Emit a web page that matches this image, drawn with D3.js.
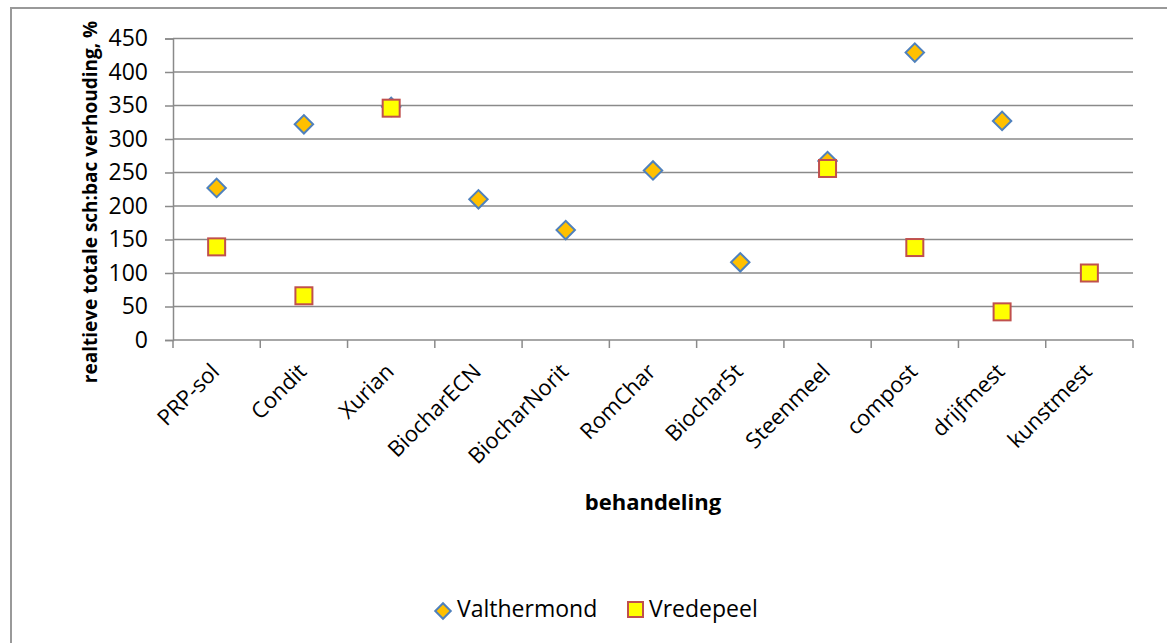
<!DOCTYPE html>
<html><head><meta charset="utf-8">
<script src="https://cdn.jsdelivr.net/npm/d3@7"></script>
<style>
body{margin:0;background:#fff;}
svg{display:block;font-family:"Open Sans","Noto Sans",sans-serif;}
</style></head>
<body><svg id="c" width="1167" height="643"></svg>
<script>
const categories = ["PRP-sol","Condit","Xurian","BiocharECN","BiocharNorit","RomChar","Biochar5t","Steenmeel","compost","drijfmest","kunstmest"];
const valthermond = [227, 322, 348, 210, 164, 253, 116, 267, 429, 327, null];
const vredepeel  = [139, 66, 346, null, null, null, null, 256, 138, 42, 100];
const yTicks = [0,50,100,150,200,250,300,350,400,450];
const seriesNames = ["Valthermond","Vredepeel"];

const svg = d3.select("#c");
const m = {l:173, r:1133, t:38.5, b:340};
const x = d3.scaleBand().domain(categories).range([m.l, m.r]);
const y = d3.scaleLinear().domain([0,450]).range([m.b, m.t]);
const grid = "#8a8a8a";

// chart border
svg.append("rect").attr("x",11).attr("y",8).attr("width",1200).attr("height",700)
  .attr("fill","none").attr("stroke","#999").attr("stroke-width",2);

// gridlines
svg.append("g").selectAll("line").data(yTicks.filter(d=>d>0)).join("line")
  .attr("x1",m.l).attr("x2",m.r).attr("y1",d=>y(d)).attr("y2",d=>y(d))
  .attr("stroke",grid).attr("stroke-width",1.5);

// y axis
const ya = svg.append("g").attr("transform",`translate(${m.l},0)`)
  .call(d3.axisLeft(y).tickValues(yTicks).tickSize(8).tickPadding(17));
ya.select(".domain").attr("stroke",grid).attr("stroke-width",1.5);
ya.selectAll(".tick line").attr("stroke",grid).attr("stroke-width",1.5);
ya.selectAll("text").attr("font-size",23).attr("fill","#000").attr("font-family","Open Sans");

// x axis line + ticks at boundaries
svg.append("line").attr("x1",m.l).attr("x2",m.r).attr("y1",m.b).attr("y2",m.b)
  .attr("stroke",grid).attr("stroke-width",1.5);
const bounds = categories.map(c=>x(c)).concat([x(categories[categories.length-1])+x.bandwidth()]);
svg.append("g").selectAll("line").data(bounds).join("line")
  .attr("x1",d=>d).attr("x2",d=>d).attr("y1",m.b).attr("y2",m.b+8)
  .attr("stroke",grid).attr("stroke-width",1.5);

// x labels
svg.append("g").selectAll("text").data(categories).join("text")
  .attr("transform",d=>`translate(${x(d)+x.bandwidth()/2+4},${m.b+33}) rotate(-45)`)
  .attr("text-anchor","end").attr("font-size",22).attr("fill","#000").text(d=>d);

// axis titles
svg.append("text").attr("transform",`translate(97,202) rotate(-90)`)
  .attr("text-anchor","middle").attr("font-size",19).attr("font-weight","bold")
  .text("realtieve totale sch:bac verhouding, %");
svg.append("text").attr("x",653).attr("y",510).attr("text-anchor","middle")
  .attr("font-size",22).attr("font-weight","bold").text("behandeling");

// markers
const dia = d3.symbol().type(d3.symbolSquare).size(170);
const cx = d=>x(d)+x.bandwidth()/2;
svg.append("g").selectAll("path").data(categories.map((c,i)=>({c,v:valthermond[i]})).filter(d=>d.v!=null)).join("path")
  .attr("d",dia).attr("transform",d=>`translate(${cx(d.c)},${y(d.v)}) rotate(45)`)
  .attr("fill","#FFC000").attr("stroke","#4F81BD").attr("stroke-width",2);
svg.append("g").selectAll("rect").data(categories.map((c,i)=>({c,v:vredepeel[i]})).filter(d=>d.v!=null)).join("rect")
  .attr("x",d=>cx(d.c)-8.5).attr("y",d=>y(d.v)-8.5).attr("width",17).attr("height",17)
  .attr("fill","#FFFF00").attr("stroke","#C0504D").attr("stroke-width",2);

// legend
const lg = svg.append("g");
lg.append("path").attr("d",d3.symbol().type(d3.symbolSquare).size(120))
  .attr("transform","translate(443,611) rotate(45)").attr("fill","#FFC000").attr("stroke","#4F81BD").attr("stroke-width",2);
lg.append("text").attr("x",457).attr("y",617).attr("font-size",23).text(seriesNames[0]);
lg.append("rect").attr("x",628).attr("y",602).attr("width",15).attr("height",15)
  .attr("fill","#FFFF00").attr("stroke","#C0504D").attr("stroke-width",2);
lg.append("text").attr("x",649).attr("y",617).attr("font-size",23).text(seriesNames[1]);
</script></body></html>
